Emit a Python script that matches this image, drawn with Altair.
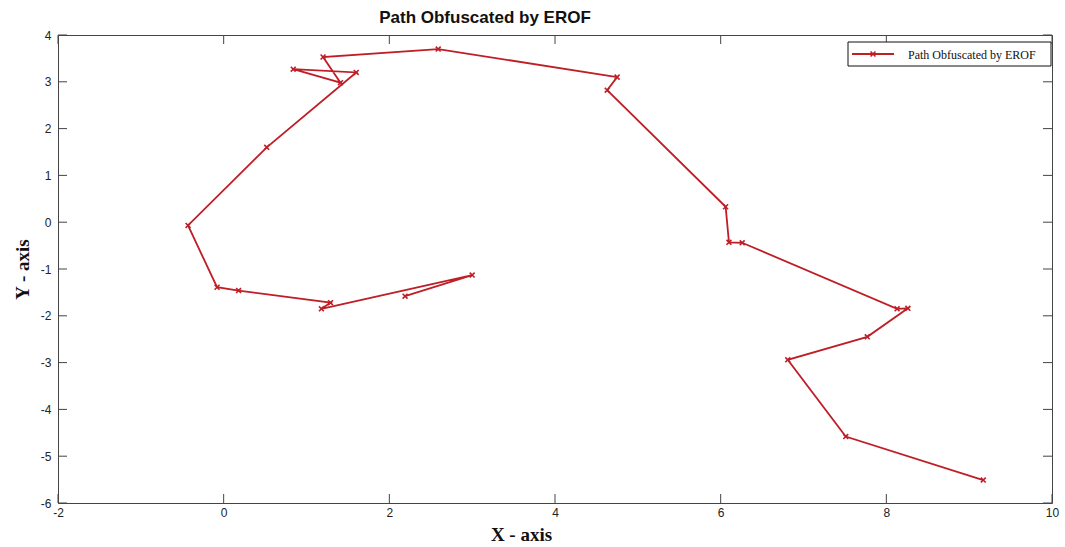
import altair as alt
import pandas as pd

# Obfuscated trajectory, in the order the path is walked
x_path = [2.19, 3.00, 1.18, 1.29, 0.18, -0.08, -0.43, 0.52, 1.60, 0.84, 1.41, 1.20,
          2.59, 4.75, 4.63, 6.06, 6.10, 6.26, 8.13, 8.26, 7.77, 6.81, 7.51, 9.17]
y_path = [-1.58, -1.13, -1.85, -1.72, -1.46, -1.39, -0.07, 1.60, 3.20, 3.27, 2.98, 3.53,
          3.70, 3.10, 2.82, 0.33, -0.43, -0.44, -1.85, -1.84, -2.45, -2.94, -4.58, -5.51]
series_name = "Path Obfuscated by EROF"

x_ticks = [-2, 0, 2, 4, 6, 8, 10]
y_ticks = [-6, -5, -4, -3, -2, -1, 0, 1, 2, 3, 4]

W, H = 994, 468
RED = "#bf1e26"
TICK = 9

path = pd.DataFrame({"step": range(len(x_path)), "x": x_path, "y": y_path})
xt = pd.DataFrame({"t": x_ticks})
yt = pd.DataFrame({"t": y_ticks})

xscale = alt.Scale(domain=[-2, 10], nice=False, zero=False)
yscale = alt.Scale(domain=[-6, 4], nice=False, zero=False)

# plain integers with an ASCII hyphen for negatives
plain = "'' + datum.value"

xaxis = alt.Axis(values=x_ticks, grid=False, ticks=False, domain=False,
                 labelExpr=plain, labelFlush=False,
                 labelFont="Liberation Sans", labelFontSize=12, labelColor="#222",
                 labelPadding=4, title="X - axis", titleFont="Liberation Serif",
                 titleFontSize=19, titleFontWeight="bold", titleColor="#111",
                 titleX=463, titleY=22)
yaxis = alt.Axis(values=y_ticks, grid=False, ticks=False, domain=False,
                 labelExpr=plain,
                 labelFont="Liberation Sans", labelFontSize=12, labelColor="#222",
                 labelPadding=7, title="Y - axis", titleFont="Liberation Serif",
                 titleFontSize=19, titleFontWeight="bold", titleColor="#111",
                 titleX=-26, titleY=234)

base = alt.Chart(path)

line = base.mark_line(color=RED, strokeWidth=1.8).encode(
    x=alt.X("x:Q", scale=xscale, axis=xaxis),
    y=alt.Y("y:Q", scale=yscale, axis=yaxis),
    order="step:Q",
)

xmark = "M-1,-1L1,1M-1,1L1,-1"
points = base.mark_point(shape=xmark, size=24, filled=False, color=RED,
                         strokeWidth=1.6, opacity=1).encode(
    x=alt.X("x:Q", scale=xscale),
    y=alt.Y("y:Q", scale=yscale),
)

# inward ticks on all four sides of the box
tick_style = dict(color="#444", strokeWidth=1)
bottom_ticks = alt.Chart(xt).mark_rule(**tick_style).encode(
    x=alt.X("t:Q", scale=xscale), y=alt.value(H), y2=alt.value(H - TICK))
top_ticks = alt.Chart(xt).mark_rule(**tick_style).encode(
    x=alt.X("t:Q", scale=xscale), y=alt.value(0), y2=alt.value(TICK))
left_ticks = alt.Chart(yt).mark_rule(**tick_style).encode(
    y=alt.Y("t:Q", scale=yscale), x=alt.value(0), x2=alt.value(TICK))
right_ticks = alt.Chart(yt).mark_rule(**tick_style).encode(
    y=alt.Y("t:Q", scale=yscale), x=alt.value(W), x2=alt.value(W - TICK))

# legend box in the upper right corner
one = alt.Data(values=[{"label": series_name}])
lx0, ly0, lx1, ly1 = 790, 7, 993, 31
legend_box = alt.Chart(one).mark_rect(fill="white", stroke="#111", strokeWidth=1).encode(
    x=alt.value(lx0), x2=alt.value(lx1), y=alt.value(ly0), y2=alt.value(ly1))
legend_line = alt.Chart(one).mark_rule(color=RED, strokeWidth=1.8).encode(
    x=alt.value(lx0 + 4), x2=alt.value(lx0 + 46), y=alt.value((ly0 + ly1) / 2))
legend_pt = alt.Chart(one).mark_point(shape=xmark, size=24, filled=False, color=RED,
                                      strokeWidth=1.6, opacity=1).encode(
    x=alt.value(lx0 + 25), y=alt.value((ly0 + ly1) / 2))
legend_text = alt.Chart(one).mark_text(align="left", baseline="middle",
                                       font="Liberation Serif", fontSize=12,
                                       color="#111").encode(
    x=alt.value(lx0 + 60), y=alt.value((ly0 + ly1) / 2 + 1), text="label:N")

chart = alt.layer(
    bottom_ticks, top_ticks, left_ticks, right_ticks,
    line, points,
    legend_box, legend_line, legend_pt, legend_text,
).properties(
    width=W, height=H,
    title=alt.TitleParams(series_name, font="Liberation Sans", fontSize=17,
                          fontWeight="bold", color="#111", dx=-70, offset=2),
    autosize=alt.AutoSizeParams(type="none"),
    padding={"left": 58, "top": 35, "right": 13, "bottom": 44},
    background="white",
).configure_view(
    stroke="#444", strokeWidth=1,
)

chart.save("out.html", embed_options={"renderer": "svg", "actions": False})
